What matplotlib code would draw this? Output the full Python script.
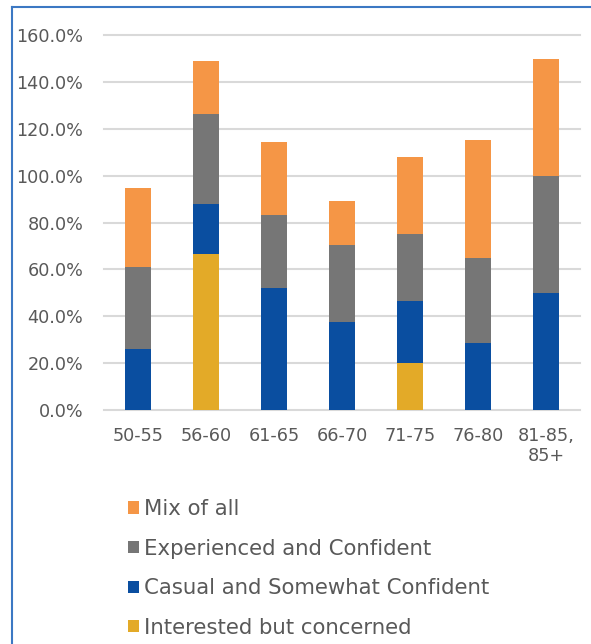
import matplotlib
matplotlib.use("Agg")
import matplotlib.pyplot as plt
from matplotlib.lines import Line2D
from matplotlib.ticker import FuncFormatter
import numpy as np

categories = ["50-55", "56-60", "61-65", "66-70", "71-75", "76-80", "81-85,\n85+"]
interested = [0.0, 66.7, 0.0, 0.0, 20.0, 0.0, 0.0]
casual = [26.0, 21.1, 52.2, 37.7, 26.6, 28.6, 50.0]
experienced = [35.0, 38.5, 31.1, 32.9, 28.4, 36.4, 50.0]
mix = [33.8, 22.6, 31.0, 18.5, 33.1, 50.1, 50.0]

series = [
    ("Interested but concerned", interested, "#E3AA28"),
    ("Casual and Somewhat Confident", casual, "#0A4EA0"),
    ("Experienced and Confident", experienced, "#767676"),
    ("Mix of all", mix, "#F59646"),
]

plt.rcParams["font.family"] = ["DejaVu Sans"]
W, H = 591, 644
fig = plt.figure(figsize=(W / 100, H / 100), dpi=100)
ax = fig.add_axes([104 / W, 1 - 410 / H, (580 - 104) / W, (410 - 35.3) / H])

x = np.arange(len(categories))
bottom = np.zeros(len(categories))
handles = {}
for name, vals, col in series:
    v = np.array(vals)
    b = ax.bar(x, v, 0.39, bottom=bottom, color=col, zorder=3, label=name)
    handles[name] = b
    bottom += v

ax.set_xlim(-0.5, len(categories) - 0.5)
ax.set_ylim(0, 160)
ax.set_yticks(np.arange(0, 161, 20))
ax.yaxis.set_major_formatter(FuncFormatter(lambda v, p: f"{v:.1f}%"))
ax.set_xticks(x)
ax.set_xticklabels(categories)
ax.grid(axis="y", color="#D9D9D9", linewidth=1.5, zorder=0)
for gl in ax.get_ygridlines():
    gl.set_clip_on(False)
for s in ax.spines.values():
    s.set_visible(False)
ax.tick_params(length=0, labelsize=12.7, colors="#595959")
ax.tick_params(axis="y", pad=15)
ax.tick_params(axis="x", pad=12)

order = ["Mix of all", "Experienced and Confident", "Casual and Somewhat Confident", "Interested but concerned"]
fig.legend([handles[n] for n in order], order, loc="upper left",
           bbox_to_anchor=(128 / W, 1 - 499 / H), frameon=False, fontsize=15.3,
           handlelength=0.5, handleheight=0.5, handletextpad=0.25,
           labelspacing=0.92, borderpad=0, borderaxespad=0, labelcolor="#595959")

border = "#3C78C3"
fig.add_artist(Line2D([12 / W, 12 / W], [0, 1 - 7 / H], color=border, lw=1.5, transform=fig.transFigure))
fig.add_artist(Line2D([12 / W, 1], [1 - 7 / H, 1 - 7 / H], color=border, lw=1.5, transform=fig.transFigure))

fig.savefig("out.png", dpi=100)
